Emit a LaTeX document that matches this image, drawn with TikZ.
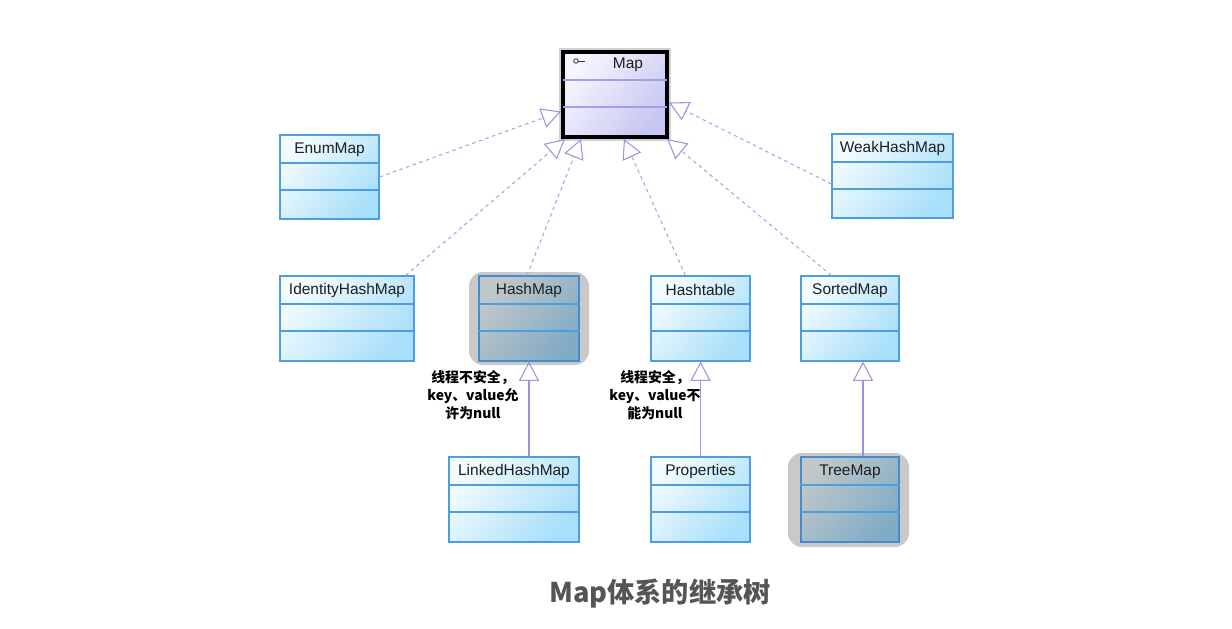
\documentclass[tikz,border=0pt]{standalone}
\usepackage{fontspec}
\setmainfont{Liberation Sans}
\newfontfamily\cjkfont{Noto Sans CJK SC}
\usetikzlibrary{arrows.meta,calc,fit}
\definecolor{clsborder}{RGB}{77,157,224}
\definecolor{clsA}{RGB}{242,251,255}
\definecolor{clsB}{RGB}{168,223,250}
\definecolor{grayA}{RGB}{192,199,201}
\definecolor{grayB}{RGB}{128,172,198}
\definecolor{grayborder}{RGB}{70,140,205}
\definecolor{shadowgray}{RGB}{201,201,201}
\definecolor{mapA}{RGB}{246,246,255}
\definecolor{mapB}{RGB}{198,198,242}
\definecolor{mapdiv}{RGB}{160,160,230}
\definecolor{arrowcol}{RGB}{150,150,225}
\definecolor{dashcol}{RGB}{165,165,232}
\definecolor{captioncol}{RGB}{85,85,85}
\definecolor{txt}{RGB}{30,30,30}
\newcommand\klass[7]{%
  \node[#7, fit={(#2,#3) (#4,#5)}] (#1) {};
  \draw[divline] ($(#1.north west)+(0,28.5)$) -- ($(#1.north east)+(0,28.5)$);
  \draw[divline] ($(#1.north west)+(0,55.5)$) -- ($(#1.north east)+(0,55.5)$);
  \node[clstext] (#1-t) at ($(#1.north)+(0,15)$) {#6};
}
\begin{document}
\begin{tikzpicture}[x=0.02cm,y=-0.02cm,
  cls/.style={draw=clsborder, line width=0.7pt, inner sep=0pt, shading=axis,
    top color=clsA, bottom color=clsB, shading angle=50},
  graycls/.style={draw=grayborder, line width=0.7pt, inner sep=0pt, shading=axis,
    top color=grayA, bottom color=grayB, shading angle=50},
  divline/.style={draw=clsborder, line width=0.7pt},
  clstext/.style={font=\fontsize{8.8}{10}\selectfont, text=txt, inner sep=0pt},
  shadowbox/.style={fill=shadowgray, rounded corners=0.28cm},
  realize/.style={draw=dashcol, line width=0.6pt, dash pattern=on 2pt off 2pt,
    -{Triangle[open, length=11pt, width=11.5pt, line width=0.6pt, color=arrowcol]}},
  extend/.style={draw=arrowcol, line width=0.7pt,
    -{Triangle[open, length=11pt, width=11.5pt, line width=0.6pt]}},
  note/.style={font=\cjkfont\bfseries\fontsize{7.9}{10.4}\selectfont, align=center, text=black, inner sep=0pt},
]
\useasboundingbox (0,0) rectangle (1232,629);
\fill[white] (0,0) rectangle (1232,629);

% gray highlight shadows
\fill[shadowbox] (469,272) rectangle (589,365);
\fill[shadowbox] (788,453) rectangle (909,547);

% Map interface
\draw[gray!35, line width=1pt] (560,49) rectangle (670,140);
\node[fit={(563,52) (667,137)}, inner sep=0pt, draw=black, line width=2.3pt,
  shading=axis, top color=mapA, bottom color=mapB, shading angle=50] (Map) {};
\draw[mapdiv, line width=0.8pt, shorten <=1.2pt, shorten >=1.2pt]
  ($(Map.north west)+(0,30)$) -- ($(Map.north east)+(0,30)$);
\draw[mapdiv, line width=0.8pt, shorten <=1.2pt, shorten >=1.2pt]
  ($(Map.north west)+(0,57)$) -- ($(Map.north east)+(0,57)$);
\node[clstext] (Map-t) at ($(Map.north)+(13,15)$) {Map};
\draw[black!75, line width=0.5pt] ($(Map.north west)+(15,11)$) circle[radius=0.045cm];
\draw[black!75, line width=0.5pt] ($(Map.north west)+(17.5,11)$) -- ($(Map.north west)+(24,11)$);

% classes
\klass{EnumMap}{280}{135}{379}{219}{EnumMap}{cls}
\klass{WeakHashMap}{832}{134}{953}{218}{WeakHashMap}{cls}
\klass{IdentityHashMap}{280}{276}{414}{361}{IdentityHashMap}{cls}
\klass{HashMap}{479}{276}{579}{361}{HashMap}{graycls}
\klass{Hashtable}{651}{276}{750}{361}{Hashtable}{cls}
\klass{SortedMap}{801}{276}{899}{361}{SortedMap}{cls}
\klass{LinkedHashMap}{449}{457}{579}{542}{LinkedHashMap}{cls}
\klass{Properties}{651}{457}{750}{542}{Properties}{cls}
\klass{TreeMap}{801}{457}{899}{542}{TreeMap}{graycls}

% realization connectors
\draw[realize] (EnumMap.east) -- ($(Map.west)+(0,17)$);
\draw[realize] ($(IdentityHashMap.north east)+(-9,0)$) -- ($(Map.south west)+(4,0)$);
\draw[realize] ($(HashMap.north)+(-2,0)$) -- ($(Map.south west)+(20,0)$);
\draw[realize] ($(Hashtable.north)+(-15,0)$) -- ($(Map.south west)+(63,0)$);
\draw[realize] ($(SortedMap.north west)+(31,0)$) -- ($(Map.south east)+(-2,0)$);
\draw[realize] ($(WeakHashMap.west)+(0,8)$) -- ($(Map.east)+(0,8)$);

% inheritance connectors
\draw[extend] (HashMap.south |- LinkedHashMap.north) -- (HashMap.south);
\draw[extend] (Properties.north) -- (Hashtable.south);
\draw[extend] ($(TreeMap.north)+(13,0)$) -- ($(SortedMap.south)+(13,0)$);

% notes
\node[note] (note1) at (473,395) {线程不安全，\\key、value允\\许为null};
\node[note] (note2) at (655,395) {线程安全，\\key、value不\\能为null};

% caption
\node[font=\cjkfont\bfseries\fontsize{15.5}{18}\selectfont, text=captioncol, inner sep=0pt] (caption) at (660,594) {Map体系的继承树};
\end{tikzpicture}
\end{document}
